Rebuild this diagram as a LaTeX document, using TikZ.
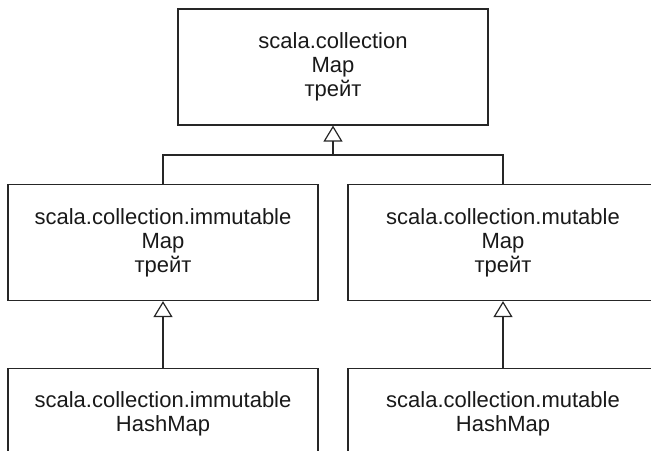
\documentclass[tikz,border=0pt]{standalone}
\usepackage{fontspec}
\setmainfont{Liberation Sans}
\usetikzlibrary{arrows.meta}
\tikzset{
  cls/.style={draw=black!85, line width=0.6pt, align=center,
    minimum width=155pt, minimum height=58pt, inner sep=0pt,
    text=black!90, font=\fontsize{11}{12}\selectfont},
  leaf/.style={cls, minimum height=45.5pt},
  inherit/.style={draw=black!85, line width=0.6pt,
    -{Triangle[open, width=9.5pt, length=8pt]}}
}
\begin{document}
\begin{tikzpicture}[x=0.5pt,y=0.5pt]
\useasboundingbox (0,0) rectangle (651,450);
\clip (0,0) rectangle (651,450);

\node[cls] (top) at (333,383) {scala.collection\\Map\\трейт};

\node[cls] (immMap) at (163,207.5) {scala.collection.immutable\\Map\\трейт};
\node[cls] (mutMap) at (503,207.5) {scala.collection.mutable\\Map\\трейт};

\node[leaf, anchor=north] (immHash) at (163,82) {scala.collection.immutable\\HashMap};
\node[leaf, anchor=north] (mutHash) at (503,82) {scala.collection.mutable\\HashMap};

\coordinate (join) at (top.south |- 0,295);
\draw[draw=black!85, line width=0.6pt] (immMap.north) |- (join) -| (mutMap.north);
\draw[inherit] (join) -- (top.south);

\draw[inherit] (immHash.north) -- (immMap.south);
\draw[inherit] (mutHash.north) -- (mutMap.south);
\end{tikzpicture}
\end{document}
